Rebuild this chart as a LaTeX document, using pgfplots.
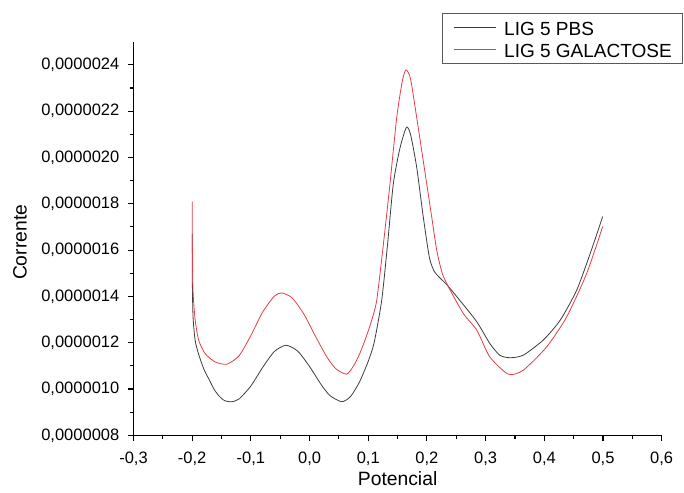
\documentclass[border=0pt]{standalone}
\usepackage{fontspec}
\setmainfont{Liberation Sans}
\usepackage{pgfplots}
\pgfplotsset{compat=1.18}

\definecolor{pbs}{RGB}{60,60,60}
\definecolor{gal}{RGB}{230,60,70}

\begin{document}
\begin{tikzpicture}
\path[use as bounding box] (0,0) rectangle (684pt,492pt);
\begin{axis}[
    at={(133.5pt,56.7pt)}, anchor=south west,
    width=528.2pt, height=393.6pt, scale only axis,
    xmin=-0.3, xmax=0.6,
    ymin=0.0000008, ymax=0.0000025,
    axis x line*=bottom, axis y line*=left,
    axis line style={line width=1.1pt, black},
    xtick={-0.3,-0.2,-0.1,0,0.1,0.2,0.3,0.4,0.5,0.6},
    ytick={0.0000008,0.000001,0.0000012,0.0000014,0.0000016,0.0000018,0.000002,0.0000022,0.0000024},
    minor x tick num=1, minor y tick num=1,
    tick align=outside,
    major tick length=6pt, minor tick length=3.5pt,
    tick style={line width=1.1pt, black},
    scaled y ticks=false,
    /pgf/number format/assume math mode=true,
    ticklabel style={font=\fontsize{16.5}{19}\selectfont, inner sep=0pt},
    xticklabel style={anchor=north, yshift=-10pt,
        /pgf/number format/fixed, /pgf/number format/fixed zerofill,
        /pgf/number format/precision=1, /pgf/number format/use comma},
    yticklabel style={anchor=east, xshift=-8pt,
        /pgf/number format/fixed, /pgf/number format/fixed zerofill,
        /pgf/number format/precision=7, /pgf/number format/use comma},
    xlabel={Potencial},
    ylabel={Corrente},
    label style={font=\fontsize{19.3}{22}\selectfont},
    xlabel style={at={(axis description cs:0.5,-0.111)}, anchor=center},
    ylabel style={at={(axis description cs:-0.2149,0.49)}, anchor=center},
    legend cell align=left,
    legend style={at={(axis description cs:0.5835,1.0722)}, anchor=north west,
        draw=black!65, line width=0.8pt,
        font=\fontsize{19}{21.7}\selectfont,
        inner xsep=11pt, inner ysep=3.3pt, row sep=0pt, column sep=0pt,
        nodes={inner sep=0pt, text height=18.5pt, text depth=3.2pt},
        /tikz/every odd column/.append style={column sep=8.3pt}},
]
\addplot[draw=pbs, line width=0.8pt, smooth, tension=0.4,
    legend image code/.code={\draw[color=pbs, draw=pbs, line width=0.8pt] (0pt,0pt) -- (42pt,0pt);}]
    coordinates {
    (-0.2000,0.00000167) (-0.1997,0.00000145) (-0.1985,0.00000131)
    (-0.1950,0.00000121) (-0.1890,0.000001150) (-0.1800,0.000001085)
    (-0.1720,0.000001045) (-0.1630,0.000001000) (-0.1550,0.000000972)
    (-0.1450,0.000000950) (-0.1330,0.000000945) (-0.1200,0.000000957)
    (-0.1000,0.000001013) (-0.0800,0.000001093) (-0.0600,0.000001162)
    (-0.0400,0.000001189) (-0.0200,0.000001163) (0.0000,0.000001097)
    (0.0200,0.000001018) (0.0350,0.000000971) (0.0550,0.000000945)
    (0.0700,0.000000968) (0.0850,0.00000103) (0.1000,0.00000112)
    (0.1100,0.00000120) (0.1229,0.000001383) (0.1327,0.00000162)
    (0.1427,0.000001886) (0.1540,0.00000204) (0.1650,0.00000213)
    (0.1720,0.00000210) (0.1825,0.000001958) (0.1938,0.000001742)
    (0.2040,0.00000157) (0.2120,0.00000151) (0.2220,0.000001480)
    (0.2340,0.000001450) (0.2560,0.000001383) (0.2850,0.00000129)
    (0.3070,0.000001197) (0.3240,0.000001146) (0.3415,0.000001135)
    (0.3640,0.000001146) (0.3980,0.000001211) (0.4270,0.000001297)
    (0.4550,0.000001426) (0.4780,0.000001584) (0.4995,0.000001745)
};
\addlegendentry{LIG 5 PBS}
\addplot[draw=gal, line width=0.8pt, smooth, tension=0.4,
    legend image code/.code={\draw[color=gal, draw=gal, line width=0.8pt] (0pt,0pt) -- (42pt,0pt);}]
    coordinates {
    (-0.2000,0.00000181) (-0.1997,0.00000160) (-0.1985,0.00000142)
    (-0.1950,0.00000130) (-0.1890,0.000001211) (-0.1780,0.000001153)
    (-0.1610,0.000001117) (-0.1410,0.000001107) (-0.1200,0.000001144)
    (-0.1000,0.000001231) (-0.0800,0.000001332) (-0.0600,0.000001401)
    (-0.0475,0.000001415) (-0.0300,0.000001394) (-0.0100,0.000001325)
    (0.0100,0.000001228) (0.0300,0.000001136) (0.0450,0.000001087)
    (0.0630,0.000001064) (0.0750,0.00000110) (0.0850,0.00000115)
    (0.0950,0.000001215) (0.1050,0.00000129) (0.1144,0.000001383)
    (0.1260,0.00000163) (0.1370,0.000001886) (0.1485,0.000002173)
    (0.1580,0.00000233) (0.1643,0.000002378) (0.1720,0.00000234)
    (0.1825,0.000002173) (0.1996,0.000001886) (0.2083,0.00000174)
    (0.2166,0.00000160) (0.2260,0.00000150) (0.2360,0.000001444)
    (0.2620,0.000001326) (0.2850,0.000001254) (0.3070,0.000001139)
    (0.3386,0.000001064) (0.3640,0.000001081) (0.4040,0.000001182)
    (0.4380,0.000001311) (0.4720,0.000001498) (0.4995,0.000001702)
};
\addlegendentry{LIG 5 GALACTOSE}
\end{axis}
\end{tikzpicture}
\end{document}
